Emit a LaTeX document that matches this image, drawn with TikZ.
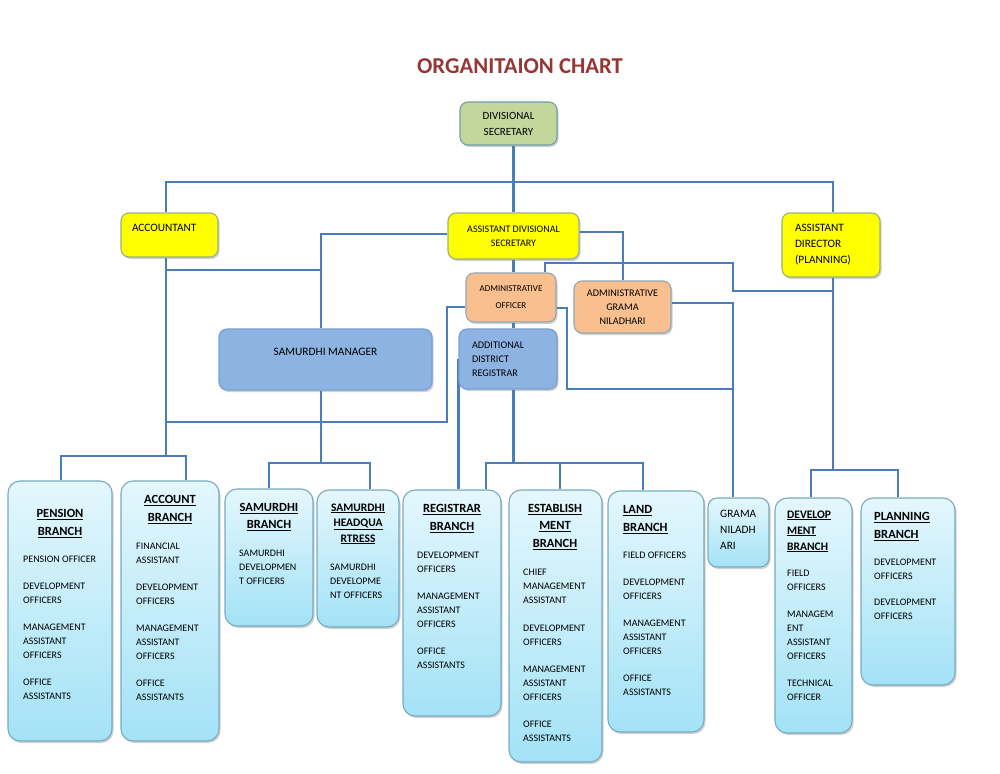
\documentclass[tikz,border=0pt]{standalone}
\usepackage{fontspec}
\setmainfont{Carlito}
\usetikzlibrary{shadows,backgrounds}

\definecolor{linecol}{HTML}{4A7EBB}
\definecolor{titlecol}{HTML}{953735}
\definecolor{brtop}{HTML}{E4F7FD}
\definecolor{brbot}{HTML}{A3E2F6}
\definecolor{brborder}{HTML}{78AABF}
\definecolor{yel}{HTML}{FFFF00}
\definecolor{yborder}{HTML}{9BB07C}
\definecolor{dsfill}{HTML}{C3D69B}
\definecolor{dsborder}{HTML}{6F9FB0}
\definecolor{orng}{HTML}{F9BF8F}
\definecolor{oborder}{HTML}{8EA9B1}
\definecolor{blu}{HTML}{8DB3E2}
\definecolor{bborder}{HTML}{7A9DCC}

\begin{document}
\begin{tikzpicture}[x=1pt,y=-1pt,
    box/.style={draw, rectangle, rounded corners=8pt, line width=1.1pt, inner sep=0pt, align=center,
      drop shadow={shadow xshift=1.5pt, shadow yshift=-2pt, opacity=.3, fill=black!60}},
    branch/.style={box, rounded corners=12pt, draw=brborder, top color=brtop, bottom color=brbot},
    head/.style={font=\fontsize{12.5}{18}\selectfont\bfseries, inner sep=0pt, anchor=north, align=center},
    headl/.style={head, anchor=north west, align=left},
    items/.style={font=\fontsize{10}{14}\selectfont, inner sep=0pt, anchor=north west, align=left},
    conn/.style={draw=linecol, line width=2.9pt}]
\useasboundingbox (0,0) rectangle (1000,773);

\node[font=\fontsize{22.7}{27}\selectfont\bfseries, text=titlecol, inner sep=0pt, anchor=north] (title) at (520,58) {ORGANITAION CHART};

% top levels
\node[box, fill=dsfill, draw=dsborder, minimum width=97pt, minimum height=43pt, font=\fontsize{11}{16}\selectfont] (ds) at (508.5,123.5) {DIVISIONAL\\SECRETARY};
\node[box, fill=yel, draw=yborder, minimum height=44pt, text width=75pt, inner xsep=11pt, align=left, font=\fontsize{11.3}{15}\selectfont] (acc) at (169.5,235) {ACCOUNTANT\\\mbox{}};
\node[box, fill=yel, draw=yborder, minimum width=131pt, minimum height=46pt, font=\fontsize{10}{14}\selectfont] (ads) at (513.5,236) {ASSISTANT DIVISIONAL\\SECRETARY};
\node[box, fill=yel, draw=yborder, minimum height=64pt, text width=72pt, inner xsep=13pt, align=left, font=\fontsize{11.3}{16}\selectfont] (ad) at (831,245) {ASSISTANT\\DIRECTOR\\(PLANNING)};
\node[box, fill=orng, draw=oborder, minimum width=90pt, minimum height=49pt, font=\fontsize{9}{17}\selectfont] (ao) at (511,297.5) {ADMINISTRATIVE\\OFFICER};
\node[box, fill=orng, draw=oborder, minimum width=97pt, minimum height=52pt, font=\fontsize{10.2}{14}\selectfont] (agn) at (622.5,307) {ADMINISTRATIVE\\GRAMA\\NILADHARI};
\node[box, fill=blu, draw=bborder, minimum width=213pt, minimum height=61pt, font=\fontsize{11.4}{15}\selectfont] (sm) at (325.5,359.5) {SAMURDHI MANAGER\\\mbox{}};
\node[box, fill=blu, draw=bborder, minimum height=60pt, text width=72pt, inner xsep=13pt, align=left, font=\fontsize{10.2}{14}\selectfont] (adr) at (508,359) {ADDITIONAL\\DISTRICT\\REGISTRAR};

% branches
\node[branch, minimum width=104pt, minimum height=260pt] (pension) at (60,611) {};
\node[head] (pensionhead) at (60,509) {\underline{PENSION}\\\underline{BRANCH}};
\node[items] (pensionitems) at (23,556) {PENSION OFFICER\\[13pt]DEVELOPMENT\\OFFICERS\\[13pt]MANAGEMENT\\ASSISTANT\\OFFICERS\\[13pt]OFFICE\\ASSISTANTS};

\node[branch, minimum width=98pt, minimum height=260pt] (account) at (170,611) {};
\node[head] (accounthead) at (170,495) {\underline{ACCOUNT}\\\underline{BRANCH}};
\node[items] (accountitems) at (136,543) {FINANCIAL\\ASSISTANT\\[13pt]DEVELOPMENT\\OFFICERS\\[13pt]MANAGEMENT\\ASSISTANT\\OFFICERS\\[13pt]OFFICE\\ASSISTANTS};

\node[branch, minimum width=88pt, minimum height=137pt] (sambr) at (269,557.5) {};
\node[head, font=\fontsize{12.5}{17}\selectfont\bfseries] (sambrhead) at (269,503) {\underline{SAMURDHI}\\\underline{BRANCH}};
\node[items] (sambritems) at (239,550) {SAMURDHI\\DEVELOPMEN\\T OFFICERS};

\node[branch, minimum width=82pt, minimum height=137pt] (samhq) at (358,558.5) {};
\node[head, font=\fontsize{11.5}{15.5}\selectfont\bfseries] (samhqhead) at (358,503.4) {\underline{SAMURDHI}\\\underline{HEADQUA}\\\underline{RTRESS}};
\node[items] (samhqitems) at (330,564) {SAMURDHI\\DEVELOPME\\NT OFFICERS};

\node[branch, minimum width=98pt, minimum height=226pt] (registrar) at (452,603) {};
\node[head] (registrarhead) at (452,504) {\underline{REGISTRAR}\\\underline{BRANCH}};
\node[items] (registraritems) at (417,552) {DEVELOPMENT\\OFFICERS\\[13pt]MANAGEMENT\\ASSISTANT\\OFFICERS\\[13pt]OFFICE\\ASSISTANTS};

\node[branch, minimum width=93pt, minimum height=272pt] (estab) at (555.5,626) {};
\node[head, font=\fontsize{12.5}{17.5}\selectfont\bfseries] (estabhead) at (555,504) {\underline{ESTABLISH}\\\underline{MENT}\\\underline{BRANCH}};
\node[items] (estabitems) at (523,569) {CHIEF\\MANAGEMENT\\ASSISTANT\\[14pt]DEVELOPMENT\\OFFICERS\\[13pt]MANAGEMENT\\ASSISTANT\\OFFICERS\\[13pt]OFFICE\\ASSISTANTS};

\node[branch, minimum width=96pt, minimum height=241pt] (land) at (656,611.5) {};
\node[headl] (landhead) at (623,505) {\underline{LAND}\\\underline{BRANCH}};
\node[items] (landitems) at (623,552) {FIELD OFFICERS\\[13pt]DEVELOPMENT\\OFFICERS\\[13pt]MANAGEMENT\\ASSISTANT\\OFFICERS\\[13pt]OFFICE\\ASSISTANTS};

\node[branch, rounded corners=9pt, minimum width=61pt, minimum height=69pt] (gn) at (738.5,532.5) {};
\node[items, font=\fontsize{11.3}{16}\selectfont] (gntext) at (720,509.5) {GRAMA\\NILADH\\ARI};

\node[branch, minimum width=77pt, minimum height=235pt] (devel) at (813.5,615.5) {};
\node[headl, font=\fontsize{11.5}{16}\selectfont\bfseries] (develhead) at (787,510.4) {\underline{DEVELOP}\\\underline{MENT}\\\underline{BRANCH}};
\node[items] (develitems) at (787,570) {FIELD\\OFFICERS\\[13pt]MANAGEM\\ENT\\ASSISTANT\\OFFICERS\\[13pt]TECHNICAL\\OFFICER};

\node[branch, minimum width=94pt, minimum height=187pt] (planning) at (908,591.5) {};
\node[headl] (planninghead) at (874,512) {\underline{PLANNING}\\\underline{BRANCH}};
\node[items] (planningitems) at (874,559) {DEVELOPMENT\\OFFICERS\\[12pt]DEVELOPMENT\\OFFICERS};

% bends of the connectors
\coordinate (busL) at (166,182);
\coordinate (busR) at (833,182);
\coordinate (smJ) at (321,234);
\coordinate (accSM) at (166,270);
\coordinate (accJ) at (166,456);
\coordinate (penT) at (61,456);
\coordinate (accT) at (186,456);
\coordinate (smT) at (321,463);
\coordinate (sbT) at (269,463);
\coordinate (shT) at (370,463);
\coordinate (agnJ) at (623,232);
\coordinate (aoUp) at (545,263);
\coordinate (aoJ) at (733,263);
\coordinate (adJ) at (733,291);
\coordinate (adT) at (833,470);
\coordinate (dvT) at (811,470);
\coordinate (plT) at (898,470);
\coordinate (aoL) at (447,307);
\coordinate (aoLow) at (447,422);
\coordinate (aoR) at (567,308);
\coordinate (aoRlow) at (567,389);
\coordinate (gnJ) at (733,303);
\coordinate (adrJ) at (513.5,463);
\coordinate (rgT) at (486,463);
\coordinate (esT) at (560,463);
\coordinate (lnT) at (643,463);

\begin{pgfonlayer}{background}
\draw[conn] (ads.north |- ds.south) -- (ads.north);
\draw[conn] (acc.north -| busL) -- (busL) -- (busR) -- (ad.north -| busR);
\draw[conn] (ads.west |- smJ) -- (smJ) -- (sm.north -| smJ);
\draw[conn] (accSM) -- (accSM -| smJ);
\draw[conn] (acc.south -| busL) -- (accJ);
\draw[conn] (pension.north -| penT) -- (penT) -- (accT) -- (account.north -| accT);
\draw[conn] (sm.south -| smJ) -- (smT);
\draw[conn] (sambr.north -| sbT) -- (sbT) -- (shT) -- (samhq.north -| shT);
\draw[conn] (ads.east |- agnJ) -- (agnJ) -- (agn.north -| agnJ);
\draw[conn] (ads.south) -- (ads.south |- ao.north);
\draw[conn] (ao.north -| aoUp) -- (aoUp) -- (aoJ) -- (adJ) -- (adJ -| busR);
\draw[conn] (ad.south -| busR) -- (adT);
\draw[conn] (devel.north -| dvT) -- (dvT) -- (plT) -- (planning.north -| plT);
\draw[conn] (ao.west |- aoL) -- (aoL) -- (aoLow) -- (aoLow -| busL);
\draw[conn] (ao.south -| ads.south) -- (adr.north -| ads.south);
\draw[conn] (ao.east |- aoR) -- (aoR) -- (aoRlow) -- (aoRlow -| gnJ);
\draw[conn] (agn.east |- gnJ) -- (gnJ) -- (gn.north -| gnJ);
\draw[conn] (adr.west) -- (adr.west |- registrar.north);
\draw[conn] (adr.south -| ads.south) -- (adrJ);
\draw[conn] (registrar.north -| rgT) -- (rgT) -- (lnT) -- (land.north -| lnT);
\draw[conn] (estab.north -| esT) -- (esT);
\end{pgfonlayer}
\end{tikzpicture}
\end{document}
